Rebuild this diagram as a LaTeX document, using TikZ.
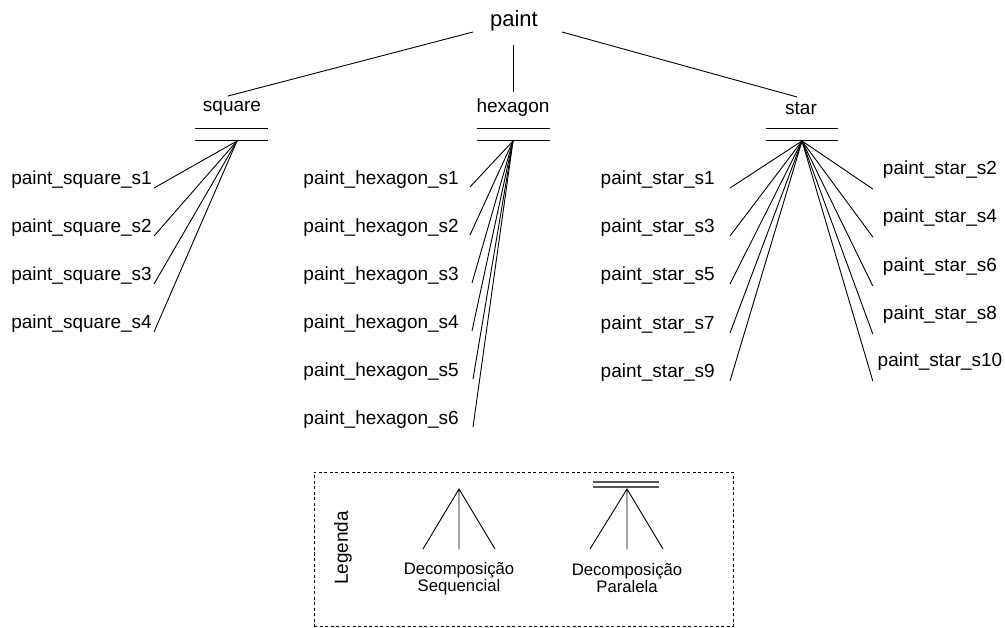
\documentclass[tikz,border=0pt]{standalone}
\usepackage{fontspec}
\setmainfont{Liberation Sans}
\usetikzlibrary{calc}
\definecolor{bargray}{HTML}{555555}
\begin{document}
\begin{tikzpicture}[x=1pt,y=-1pt,
  lbl/.style={inner sep=0pt, font=\fontsize{19}{22}\selectfont},
  rootlbl/.style={inner sep=0pt, font=\fontsize{22}{26}\selectfont},
  leaf/.style={lbl},
  small/.style={inner sep=0pt, align=center, font=\fontsize{16.7}{17}\selectfont},
  conn/.style={line width=0.9pt, black},
  bar/.style={line width=1.2pt, black},
  lbar/.style={line width=1.6pt, bargray},
  barbox/.style={draw=none, inner sep=0pt, minimum height=12pt},
  legbox/.style={draw, line width=0.9pt, dash pattern=on 3pt off 2.5pt, inner sep=0pt, minimum width=419pt, minimum height=154pt}]
\useasboundingbox (0,0) rectangle (1005,628);

% root and first level
\node[rootlbl] (paint) at (514,21) {paint};
\node[lbl] (square) at (232,108) {square};
\node[lbl] (hexagon) at (513,108) {hexagon};
\node[lbl] (star) at (801,108) {star};
\draw[conn] ([xshift=-41pt,yshift=-11pt]paint.center) -- ([xshift=-4pt,yshift=12pt]square.center);
\draw[conn] ([xshift=-1pt,yshift=-24pt]paint.center) -- ([yshift=16pt]hexagon.center);
\draw[conn] ([xshift=48pt,yshift=-11pt]paint.center) -- ([xshift=-4pt,yshift=11pt]star.center);

% parallel bars
\node[barbox, minimum width=73pt] (sqbar) at (231.5,134.5) {};
\node[barbox, minimum width=73pt] (hxbar) at (513.5,134.5) {};
\node[barbox, minimum width=72pt] (stbar) at (802,134.5) {};
\foreach \b in {sqbar,hxbar,stbar}{
  \draw[bar] (\b.north west) -- (\b.north east) (\b.south west) -- (\b.south east);
}
\coordinate (sqA) at (237,141);
\coordinate (hxA) at (513,141);
\coordinate (stA) at (802,141);

% square children
\foreach \i/\y in {1/180,2/228,3/276,4/324}{
  \node[leaf,anchor=east] (sq\i) at (152,\y) {paint\_square\_s\i};
  \draw[conn] (sqA) -- ([xshift=2pt,yshift=-8pt]sq\i.east);
}
% hexagon children
\foreach \i/\y/\d in {1/180/11,2/228/11,3/276/13,4/324/13,5/372/14,6/420/14}{
  \node[leaf,anchor=east] (hx\i) at (459,\y) {paint\_hexagon\_s\i};
  \draw[conn] (hxA) -- ([xshift=\d pt,yshift=-7pt]hx\i.east);
}
% star children, left column
\foreach \i/\y in {1/180,3/228,5/276,7/325,9/373}{
  \node[leaf,anchor=east] (st\i) at (715,\y) {paint\_star\_s\i};
  \draw[conn] (stA) -- ([xshift=15pt,yshift=-8pt]st\i.east);
}
% star children, right column
\foreach \i/\y in {2/170,4/218,6/267,8/315,10/362}{
  \node[leaf,minimum width=134pt] (st\i) at (940,\y) {paint\_star\_s\i};
  \draw[conn] (stA) -- ([yshift=-19pt]st\i.west);
}

% legend
\node[legbox] (legend) at (523.5,549) {};
\node[lbl, rotate=90] (legtitle) at (343,548) {Legenda};

\coordinate (lsA) at (459,489);
\coordinate (ls1) at (423,549);
\coordinate (ls2) at (459,549);
\coordinate (ls3) at (495,549);
\draw[conn] (ls1) -- (lsA) -- (ls3) (lsA) -- (ls2);
\node[small] (lsT) at (459,578.5) {Decomposição\\Sequencial};

\node[barbox, minimum width=66pt, minimum height=5pt] (lpbar) at (626,484.5) {};
\draw[lbar] (lpbar.north west) -- (lpbar.north east) (lpbar.south west) -- (lpbar.south east);
\coordinate (lpA) at (627,489);
\coordinate (lp1) at (590,549);
\coordinate (lp2) at (627,549);
\coordinate (lp3) at (663,549);
\draw[conn] (lp1) -- (lpA) -- (lp3) (lpA) -- (lp2);
\node[small] (lpT) at (627,578.5) {Decomposição\\Paralela};
\end{tikzpicture}
\end{document}
